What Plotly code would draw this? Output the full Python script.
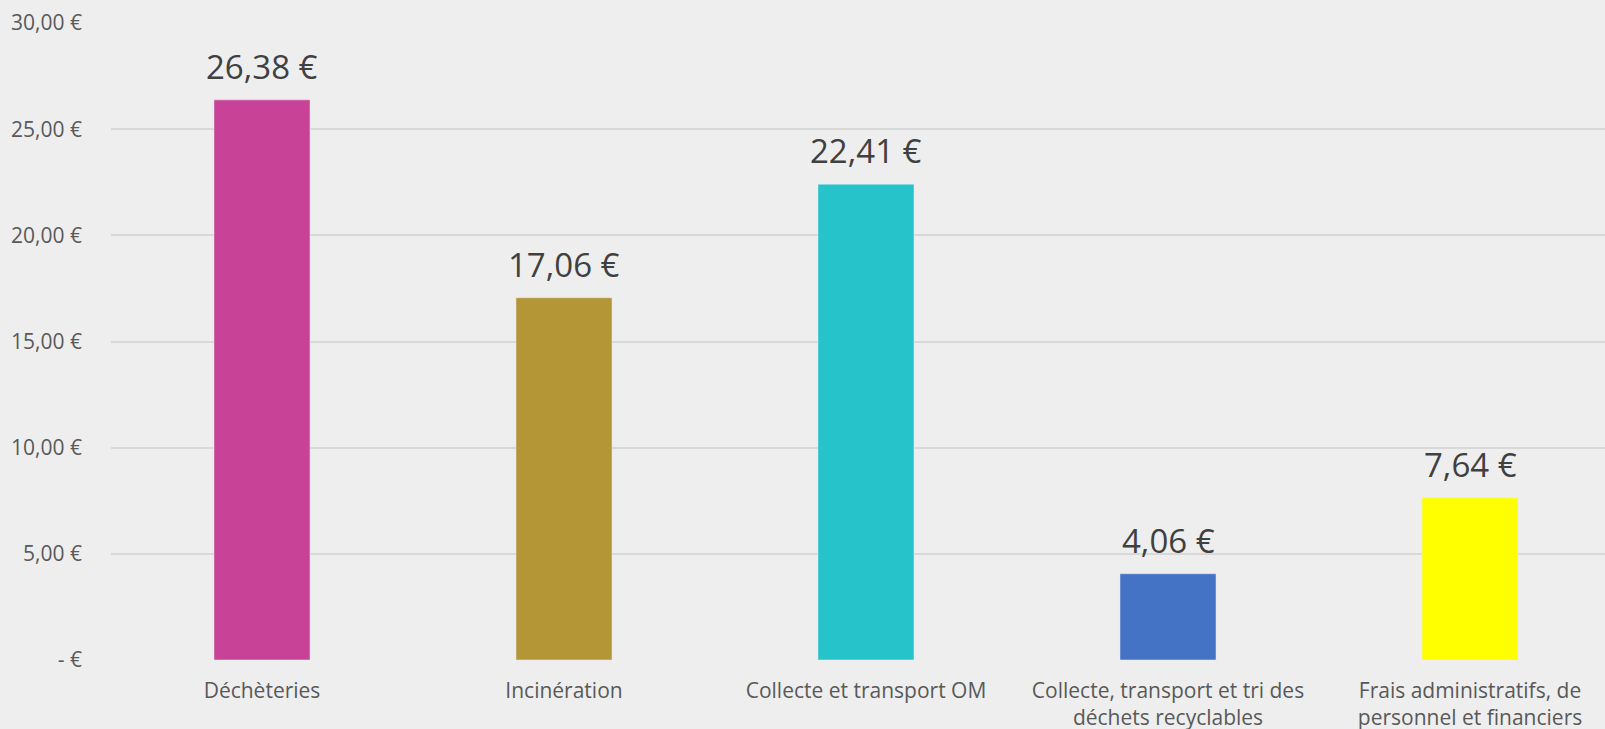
import plotly.graph_objects as go

categories = ["Déchèteries", "Incinération", "Collecte et transport OM",
              "Collecte, transport et tri des<br>déchets recyclables",
              "Frais administratifs, de<br>personnel et financiers"]
values = [26.38, 17.06, 22.41, 4.06, 7.64]
bar_colors = ["#C84397", "#B59636", "#27C3CA", "#4472C4", "#FFFF00"]
y_ticks = [0, 5, 10, 15, 20, 25, 30]
y_tick_labels = ["- €", "5,00 €", "10,00 €", "15,00 €", "20,00 €", "25,00 €", "30,00 €"]
value_labels = ["26,38 €", "17,06 €", "22,41 €", "4,06 €", "7,64 €"]

fig = go.Figure()
fig.add_trace(go.Bar(x=list(range(len(categories))), y=values, marker_color=bar_colors,
                     width=0.318, hoverinfo="skip"))

# data labels above bars
for i, (v, t) in enumerate(zip(values, value_labels)):
    fig.add_annotation(x=i, y=v, text=t, showarrow=False, yanchor="bottom", yshift=9,
                       font=dict(family="Open Sans", size=33, color="#404040"))

fig.update_xaxes(tickvals=list(range(len(categories))), ticktext=categories,
                 range=[-0.5, 4.447], showgrid=False, zeroline=False, showline=False,
                 ticklabelstandoff=16, automargin=False,
                 tickfont=dict(family="Open Sans", size=21, color="#595959"))
fig.update_yaxes(tickvals=y_ticks, ticktext=y_tick_labels, range=[0, 30],
                 showgrid=True, gridcolor="#D8D8D8", gridwidth=2, zeroline=False,
                 ticklabelstandoff=28, automargin=False,
                 tickfont=dict(family="Open Sans", size=21, color="#595959"))
fig.update_layout(
    width=1605, height=729,
    margin=dict(l=111, r=0, t=23, b=69),
    paper_bgcolor="#EEEEEE",
    plot_bgcolor="#EEEEEE",
    showlegend=False,
)
fig.write_html("out.html", config={"displayModeBar": False},
               post_script="document.body.style.margin='0';document.body.style.overflow='hidden';")
